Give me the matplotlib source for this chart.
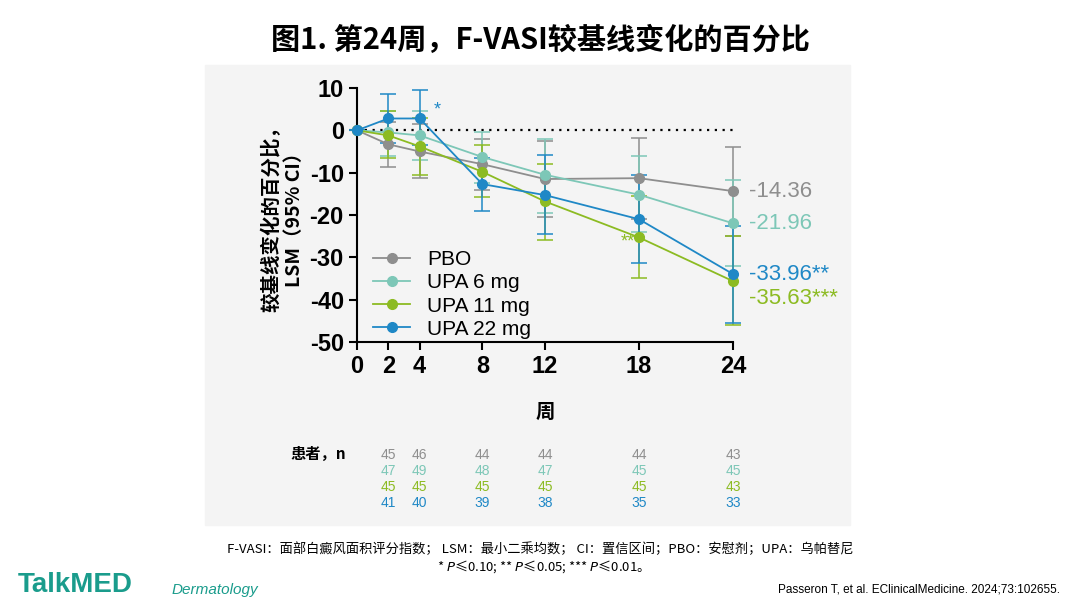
import matplotlib.pyplot as plt
from matplotlib.patches import Rectangle
from matplotlib.lines import Line2D

plt.rcParams['font.family'] = ['Liberation Sans', 'Noto Sans CJK SC']
plt.rcParams['axes.unicode_minus'] = False

weeks = [0, 2, 4, 8, 12, 18, 24]
names = ['PBO', 'UPA 6 mg', 'UPA 11 mg', 'UPA 22 mg']
colours = ['#8e8e8e', '#7dc7b7', '#8cbb22', '#1f88c6']
pbo = [0, -3.3, -5.0, -8.0, -11.5, -11.3, -14.36]
pbo_lo = [0, -8.7, -11.2, -14.0, -20.5, -21.0, -25.0]
pbo_hi = [0, 2.0, 1.5, -2.0, -2.5, -1.8, -4.0]
upa6 = [0, -0.5, -1.2, -6.3, -10.5, -15.2, -21.96]
upa6_lo = [0, -6.0, -7.0, -12.5, -19.5, -24.0, -32.0]
upa6_hi = [0, 4.5, 4.5, -0.5, -2.0, -6.0, -11.8]
upa11 = [0, -1.2, -3.8, -9.8, -16.8, -25.3, -35.63]
upa11_lo = [0, -6.5, -10.5, -15.8, -25.8, -34.8, -46.0]
upa11_hi = [0, 4.5, 3.0, -3.5, -8.0, -15.5, -25.0]
upa22 = [0, 2.8, 2.8, -12.7, -15.3, -21.0, -33.96]
upa22_lo = [0, -3.0, -3.5, -19.0, -24.5, -31.3, -45.5]
upa22_hi = [0, 8.5, 9.5, -6.5, -5.8, -10.5, -22.5]
end_labels = ['-14.36', '-21.96', '-35.63***', '-33.96**']
end_label_y = [-14.36, -21.96, -39.8, -34.0]
n_rows = [[45, 46, 44, 44, 44, 43], [47, 49, 48, 47, 45, 45],
          [45, 45, 45, 45, 45, 43], [41, 40, 39, 38, 35, 33]]

series = [(pbo, pbo_lo, pbo_hi), (upa6, upa6_lo, upa6_hi),
          (upa11, upa11_lo, upa11_hi), (upa22, upa22_lo, upa22_hi)]

fig = plt.figure(figsize=(10.8, 6.08), dpi=100)
fig.patches.append(Rectangle((205/1080, 1-525/608), 645/1080, 460/608,
                             transform=fig.transFigure, color='#f4f4f4', zorder=-10))
fig.text(0.5, 1-40/608, '图1. 第24周，F-VASI较基线变化的百分比', ha='center', va='center',
         fontsize=21, fontweight='bold', family=['Noto Sans CJK SC'])

ax = fig.add_axes([357/1080, 1-342/608, 376/1080, 254/608])
ax.set_facecolor('none')
for (y, lo, hi), c in zip(series, colours):
    err = [[v - l for v, l in zip(y, lo)], [h - v for v, h in zip(y, hi)]]
    ax.errorbar(weeks, y, yerr=err, color=c, marker='o', ms=7, lw=1.3, elinewidth=1.1,
                capsize=6, capthick=1.1, clip_on=False, zorder=3)
ax.axhline(0, color='black', ls=(0, (1, 2.5)), lw=1.6, zorder=1)
ax.set_xlim(0, 24)
ax.set_ylim(-50, 10)
ax.set_xticks(weeks)
ax.set_yticks(range(-50, 11, 10))
ax.tick_params(labelsize=17, width=1.5, length=6)
for t in ax.get_xticklabels() + ax.get_yticklabels():
    t.set_fontweight('bold')
ax.spines['top'].set_visible(False)
ax.spines['right'].set_visible(False)
ax.spines['left'].set_linewidth(1.5)
ax.spines['bottom'].set_linewidth(1.5)
ax.set_ylabel('较基线变化的百分比，\nLSM（95% CI）', fontsize=14, fontweight='bold', labelpad=4,
              family=['Noto Sans CJK SC'])
ax.set_xlabel('周', fontsize=14, fontweight='bold', labelpad=18, family=['Noto Sans CJK SC'])
for lab, ly, c in zip(end_labels, end_label_y, colours):
    ax.text(25, ly, lab, color=c, fontsize=16, va='center')
ax.text(4.9, 3.8, '*', color=colours[3], fontsize=13)
ax.text(16.8, -27.5, '**', color=colours[2], fontsize=13)
handles = [Line2D([], [], color=c, marker='o', ms=7, lw=1.3) for c in colours]
ax.legend(handles, names, loc='lower left', bbox_to_anchor=(0.02, -0.02), frameon=False,
          fontsize=15, handlelength=1.8, labelspacing=0.2, borderaxespad=0)

fig.text(318/1080, 1-454/608, '患者，n', ha='center', va='center', fontsize=11, fontweight='bold',
         family=['Noto Sans CJK SC'])
for r, (row, c) in enumerate(zip(n_rows, colours)):
    for w, v in zip(weeks[1:], row):
        xp = ax.transData.transform((w, 0))[0] / fig.bbox.width
        fig.text(xp, 1-(455 + 16*r)/608, str(v), ha='center', va='center', fontsize=10, color=c)

fig.text(540/1080, 1-549/608, 'F-VASI：面部白癜风面积评分指数； LSM：最小二乘均数； CI：置信区间；PBO：安慰剂；UPA：乌帕替尼',
         ha='center', va='center', fontsize=9.5, family=['Noto Sans CJK SC'])
fig.text(540/1080, 1-567/608, '* $P$≤0.10; ** $P$≤0.05; *** $P$≤0.01。', ha='center', va='center',
         fontsize=9.5, family=['Noto Sans CJK SC'])
fig.text(18/1080, 1-585/608, 'TalkMED', color='#1a9c8c', fontsize=20, fontweight='bold', va='center')
fig.text(172/1080, 1-590/608, 'Dermatology', color='#1a9c8c', fontsize=11, style='italic', va='center')
fig.text(1060/1080, 1-590/608, 'Passeron T, et al. EClinicalMedicine. 2024;73:102655.', ha='right',
         va='center', fontsize=8.5)

fig.savefig('out.png', dpi=100, facecolor='white')
